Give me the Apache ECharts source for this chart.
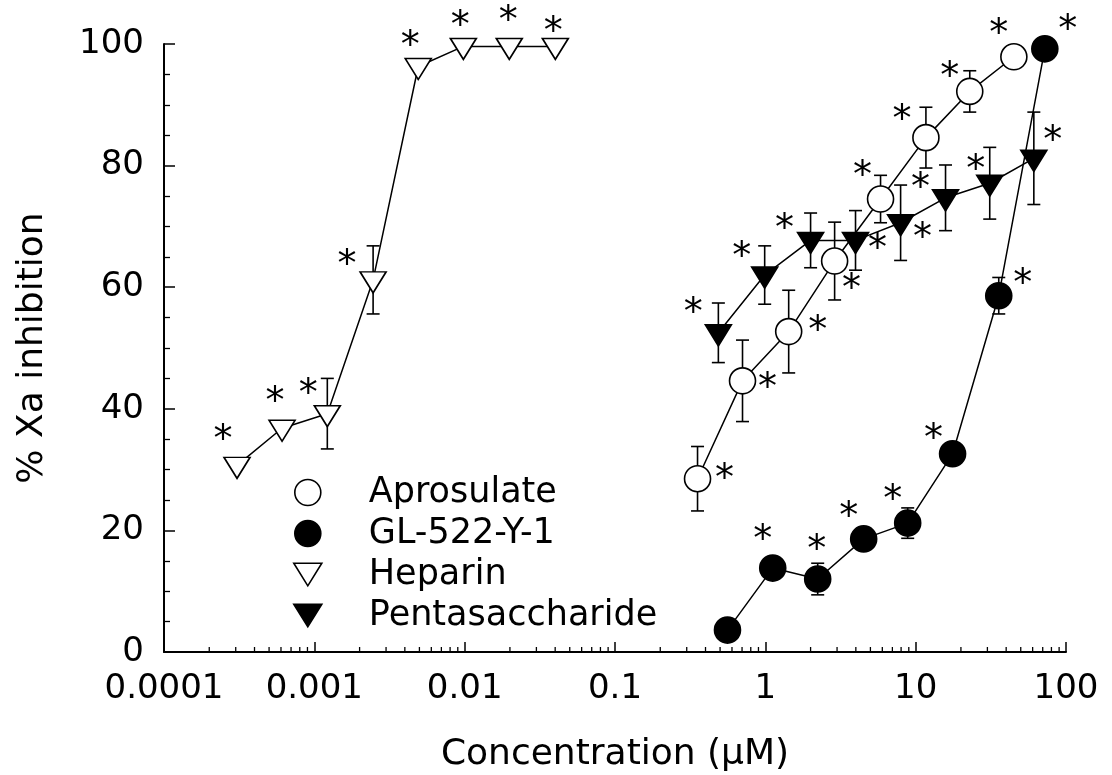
<!DOCTYPE html>
<html><head><meta charset="utf-8">
<script src="https://cdn.jsdelivr.net/npm/echarts@6/dist/echarts.min.js"></script>
<style>html,body{margin:0;padding:0;background:#fff}#c{width:1112px;height:775px}</style>
</head><body><div id="c"></div>
<script>
// ---------- data ----------
const xTickLabels = ['0.0001', '0.001', '0.01', '0.1', '1', '10', '100'];
const yTickValues = [0, 20, 40, 60, 80, 100];
const seriesNames = ['Aprosulate', 'GL-522-Y-1', 'Heparin', 'Pentasaccharide'];

const aprosulateX = [0.354, 0.705, 1.43, 2.89, 5.84, 11.7, 22.9, 45.0];
const aprosulateY = [28.5, 44.6, 52.7, 64.3, 74.5, 84.6, 92.2, 97.9];
const aprosulateErr = [5.3, 6.7, 6.8, 6.4, 3.9, 5.0, 3.4, null];

const glX = [0.56, 1.12, 2.23, 4.51, 8.85, 17.6, 35.7, 72.3];
const glY = [3.6, 13.8, 12.0, 18.6, 21.2, 32.6, 58.6, 99.2];
const glErr = [null, null, 2.6, null, 2.5, null, 3.0, null];

const heparinX = [0.000306, 0.00061, 0.00122, 0.00246, 0.00491, 0.0098, 0.0198, 0.0401];
const heparinY = [30.7, 36.8, 39.2, 61.2, 96.3, 99.6, 99.6, 99.6];
const heparinErr = [null, null, 5.8, 5.6, null, null, null, null];

const pentaX = [0.487, 0.99, 2.0, 3.98, 7.94, 15.8, 31.1, 61.1];
const pentaY = [52.5, 62.0, 67.7, 67.7, 70.6, 74.7, 77.1, 81.2];
const pentaErr = [4.9, 4.8, 4.5, 4.9, 6.2, 5.4, 5.9, 7.6];

// significance marks (1 = marked with asterisk)
const aprosulateSig = [1, 1, 1, 1, 1, 1, 1, 1];
const glSig = [0, 1, 1, 1, 1, 1, 1, 1];
const heparinSig = [1, 1, 1, 1, 1, 1, 1, 1];
const pentaSig = [1, 1, 1, 1, 1, 1, 1, 1];

// ---------- style (label placement offsets in px, not data) ----------
const aprosulateStarOff = [[27,-7],[25,0],[29,-7],[17,21],[-18,-30],[-24,-25],[-20,-21],[-15,-30]];
const glStarOff = [[0,0],[-10,-35],[-1,-36],[-15,-29],[-15,-30],[-19,-22],[24,-19],[23,-26]];
const heparinStarOff = [[-14,-35],[-7,-36],[-19,-29],[-26,-24],[-8,-30],[-3,-30],[-1,-35],[-2,-24]];
const pentaStarOff = [[-25,-29],[-23,-27],[-26,-21],[22,-1],[22,6],[-25,-19],[-14,-23],[19,-27]];

const FONT = 'DejaVu Sans';
const TRI = 'path://M0,0L26,0L13,21Z';
const STAR_FS = 38;
const STAR_CORR = 8;

function lineSeries(name, xs, ys, sig, off, symbol, size, filled, symOffset) {
  return {
    type: 'line', name: name, z: 3,
    symbol: symbol, symbolSize: size, symbolOffset: symOffset, symbolKeepAspect: false,
    showAllSymbol: true, animation: false,
    itemStyle: { color: filled ? '#000' : '#fff', borderColor: '#000', borderWidth: 1.6 },
    lineStyle: { color: '#000', width: 1.5 },
    emphasis: { disabled: true },
    data: xs.map((x, i) => ({
      value: [x, ys[i]],
      label: sig[i] ? {
        show: true, formatter: '*', position: 'inside', color: '#000',
        fontFamily: FONT, fontSize: STAR_FS,
        offset: [off[i][0], off[i][1] + STAR_CORR]
      } : { show: false }
    }))
  };
}

function errSeries(name, xs, ys, errs) {
  const data = [];
  xs.forEach((x, i) => { if (errs[i] != null) data.push([x, ys[i] - errs[i], ys[i] + errs[i]]); });
  return {
    type: 'custom', name: name + ' err', z: 1, silent: true, animation: false,
    data: data, encode: { x: 0, y: [1, 2] },
    renderItem: function (params, api) {
      const lo = api.coord([api.value(0), api.value(1)]);
      const hi = api.coord([api.value(0), api.value(2)]);
      const c = 6.5, st = { stroke: '#000', lineWidth: 1.6 };
      return { type: 'group', children: [
        { type: 'line', shape: { x1: lo[0], y1: lo[1], x2: hi[0], y2: hi[1] }, style: st },
        { type: 'line', shape: { x1: lo[0] - c, y1: lo[1], x2: lo[0] + c, y2: lo[1] }, style: st },
        { type: 'line', shape: { x1: hi[0] - c, y1: hi[1], x2: hi[0] + c, y2: hi[1] }, style: st }
      ]};
    }
  };
}

// minor log ticks at 2..9 of each decade
const minorTicks = [];
for (let d = -4; d < 2; d++) for (let k = 2; k <= 9; k++) minorTicks.push([k * Math.pow(10, d), 0]);

const minorTickSeries = {
  type: 'custom', name: 'minor', silent: true, z: 5, animation: false,
  data: minorTicks, encode: { x: 0, y: 1 },
  renderItem: function (params, api) {
    const p = api.coord([api.value(0), 0]);
    return { type: 'line', shape: { x1: p[0], y1: p[1], x2: p[0], y2: p[1] - 5 }, style: { stroke: '#000', lineWidth: 1.3 } };
  }
};

const chart = echarts.init(document.getElementById('c'), null, { renderer: 'canvas' });
chart.setOption({
  animation: false,
  backgroundColor: '#fff',
  textStyle: { fontFamily: FONT, color: '#000' },
  grid: { left: 164, right: 46, top: 44, bottom: 123, containLabel: false, outerBoundsMode: 'none' },
  legend: {
    orient: 'vertical', left: 293, top: 475, padding: 0,
    itemWidth: 28, itemHeight: 26, itemGap: 6, symbolKeepAspect: true,
    selectedMode: false,
    textStyle: { fontFamily: FONT, fontSize: 35, color: '#000', lineHeight: 35, padding: [0, 0, 0, 42] },
    data: [
      { name: seriesNames[0], icon: 'circle', itemStyle: { color: '#fff', borderColor: '#000', borderWidth: 1.6 } },
      { name: seriesNames[1], icon: 'circle', itemStyle: { color: '#000', borderColor: '#000', borderWidth: 1.6 } },
      { name: seriesNames[2], icon: TRI, itemStyle: { color: '#fff', borderColor: '#000', borderWidth: 1.6 } },
      { name: seriesNames[3], icon: TRI, itemStyle: { color: '#000', borderColor: '#000', borderWidth: 1.6 } }
    ]
  },
  xAxis: {
    type: 'log', logBase: 10, min: 0.0001, max: 100, splitNumber: 6,
    name: 'Concentration (\u03bcM)', nameLocation: 'middle', nameGap: 85,
    nameTextStyle: { fontFamily: FONT, fontSize: 36, color: '#000' },
    axisLine: { show: true, lineStyle: { color: '#000', width: 2 } },
    axisTick: { show: true, inside: true, length: 10, lineStyle: { color: '#000', width: 1.5 } },
    splitLine: { show: false },
    axisLabel: {
      fontFamily: FONT, fontSize: 34, color: '#000', margin: 20,
      formatter: function (v) { return xTickLabels[Math.round(Math.log10(v)) + 4]; }
    }
  },
  yAxis: {
    type: 'value', min: yTickValues[0], max: yTickValues[yTickValues.length - 1], interval: 20,
    name: '% Xa inhibition', nameLocation: 'middle', nameGap: 113, nameRotate: 90,
    nameTextStyle: { fontFamily: FONT, fontSize: 36, color: '#000' },
    axisLine: { show: true, lineStyle: { color: '#000', width: 2 } },
    axisTick: { show: true, inside: true, length: 11, lineStyle: { color: '#000', width: 1.5 } },
    minorTick: { show: true, splitNumber: 4, length: 6, lineStyle: { color: '#000', width: 1.3 } },
    splitLine: { show: false },
    axisLabel: { fontFamily: FONT, fontSize: 34, color: '#000', margin: 20 }
  },
  series: [
    errSeries(seriesNames[0], aprosulateX, aprosulateY, aprosulateErr),
    errSeries(seriesNames[1], glX, glY, glErr),
    errSeries(seriesNames[2], heparinX, heparinY, heparinErr),
    errSeries(seriesNames[3], pentaX, pentaY, pentaErr),
    lineSeries(seriesNames[0], aprosulateX, aprosulateY, aprosulateSig, aprosulateStarOff, 'circle', 26, false, [0, 0]),
    lineSeries(seriesNames[1], glX, glY, glSig, glStarOff, 'circle', 26, true, [0, 0]),
    lineSeries(seriesNames[2], heparinX, heparinY, heparinSig, heparinStarOff, TRI, [26, 21], false, [0, 2.5]),
    lineSeries(seriesNames[3], pentaX, pentaY, pentaSig, pentaStarOff, TRI, [26, 21], true, [0, 2.5]),
    minorTickSeries
  ]
});
</script>
</body></html>
